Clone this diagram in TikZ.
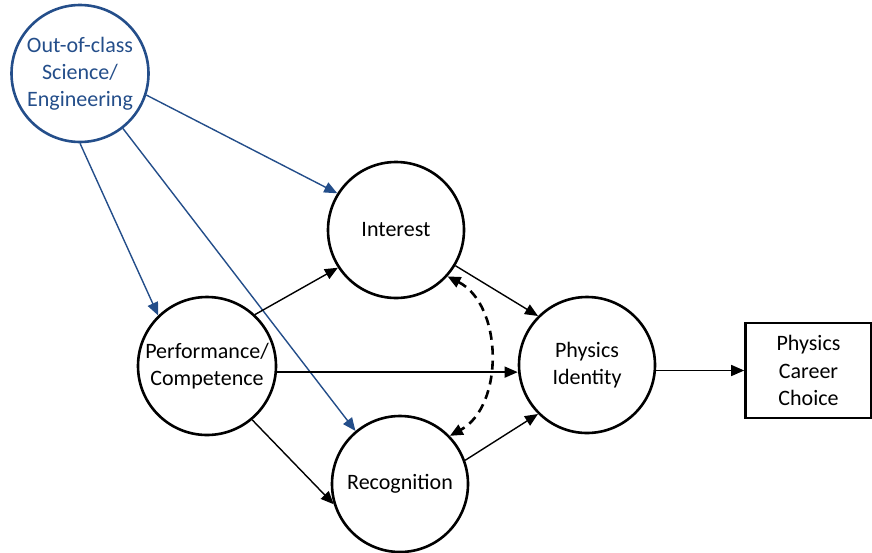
\documentclass[tikz,border=0pt]{standalone}
\usepackage{fontspec}
\setmainfont{Carlito}
\usetikzlibrary{arrows.meta}

\definecolor{bleu}{RGB}{36,78,138}

\tikzset{rond/.style = {circle, draw, line width=2.6pt, minimum size=#1,
                        align=center, inner sep=0pt, font=\fontsize{22}{27}\selectfont},
         rond/.default=136pt,
         boite/.style = {rectangle, draw, line width=2.6pt, minimum width=126pt,
                         minimum height=95pt, align=center,
                         font=\fontsize{22}{27.5}\selectfont},
         fleche/.style = {line width=1.4pt, -{Triangle[length=13pt,width=11pt]}},
         flechebleue/.style = {fleche, draw=bleu, fill=bleu}
        }

\begin{document}
\begin{tikzpicture}[x=1pt,y=-1pt]
  \useasboundingbox (0,0) rectangle (872,552);
  % noeuds
  \node[rond=137pt, draw=bleu, text=bleu] (hors) at (80,73.5) {Out-of-class\\Science/\\Engineering};
  \node[rond] (interet) at (396,230) {Interest};
  \node[rond=138pt] (perf) at (207,366) {Performance/\\Competence};
  \node[rond] (recon) at (400,484) {Recognition};
  \node[rond] (ident) at (587,365) {Physics\\Identity};
  \node[boite] (choix) at (808.5,370.5) {Physics\\Career\\Choice};
  % fleches bleues
  \draw[flechebleue] (hors.-18) -- (interet.148);
  \draw[flechebleue] (hors.-90) -- (perf.134);
  \draw[flechebleue] (hors.-52) -- (recon.130);
  % fleches noires
  \draw[fleche] (perf.47) -- (interet.213);
  \draw[fleche] (perf.-5) -- (perf.-5 -| ident.west);
  \draw[fleche] (perf.-50) -- (recon.197);
  \draw[fleche] (interet.-31) -- (ident.135);
  \draw[fleche] (recon.20) -- (ident.225);
  \draw[fleche] (ident.east |- choix.west) -- (choix.west);
  % lien en pointilles
  \draw[line width=2.6pt, dash pattern=on 9pt off 6pt,
        {Triangle[length=13pt,width=11pt]}-{Triangle[length=13pt,width=11pt]}]
        (interet.-42) to[bend left=62] (recon.44);
\end{tikzpicture}
\end{document}
